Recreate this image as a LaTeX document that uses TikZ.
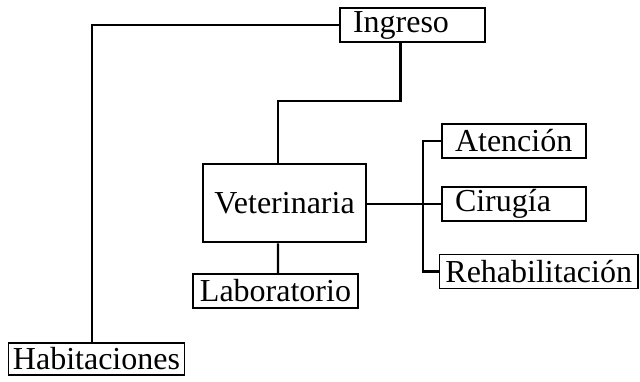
\documentclass[tikz,border=0pt]{standalone}
\usepackage{fontspec}
\setmainfont{Liberation Serif}
\usepackage{tikz}

\begin{document}
\begin{tikzpicture}[x=0.75pt,y=-0.75pt,
  box/.style={draw,line width=1.1pt,inner ysep=1pt,minimum height=25.5pt,font=\fontsize{24}{27}\selectfont},
  lbox/.style={box,inner xsep=9.75pt,align=left},
  link/.style={line width=1.6pt}]
  \useasboundingbox (0,0) rectangle (640,382);
  \node[lbox,text width=89.25pt] (ingreso) at (412.5,25) {Ingreso};
  \node[box,line width=2pt,minimum width=122.25pt,minimum height=58.5pt] (vet) at (284.5,203) {Veterinaria};
  \node[box,minimum width=123.75pt] (lab) at (275.5,291) {Laboratorio};
  \node[lbox,text width=88.5pt] (aten) at (514,141) {Atención};
  \node[lbox,text width=88.5pt] (ciru) at (514,204) {Cirugía};
  \node[lbox,inner xsep=4.5pt,text width=140pt] (rehab) at (538.75,271.5) {Rehabilitación};
  \node[box,minimum width=129.75pt,minimum height=24pt] (hab) at (96.5,359) {Habitaciones};
  \coordinate (split) at (423,204);
  \draw[link] (ingreso.west) -| ([xshift=-3.4pt]hab.north);
  \draw[link] ([xshift=-9pt]ingreso.south) -- ++(0,58) -| ([xshift=-4.9pt]vet.north);
  \draw[link] ([xshift=-4.9pt]vet.south) -- ([xshift=1.9pt]lab.north);
  \draw[link] (vet.east |- split) -- (ciru.west);
  \draw[link] (aten.west) -| (split) |- (rehab.west);
\end{tikzpicture}
\end{document}
